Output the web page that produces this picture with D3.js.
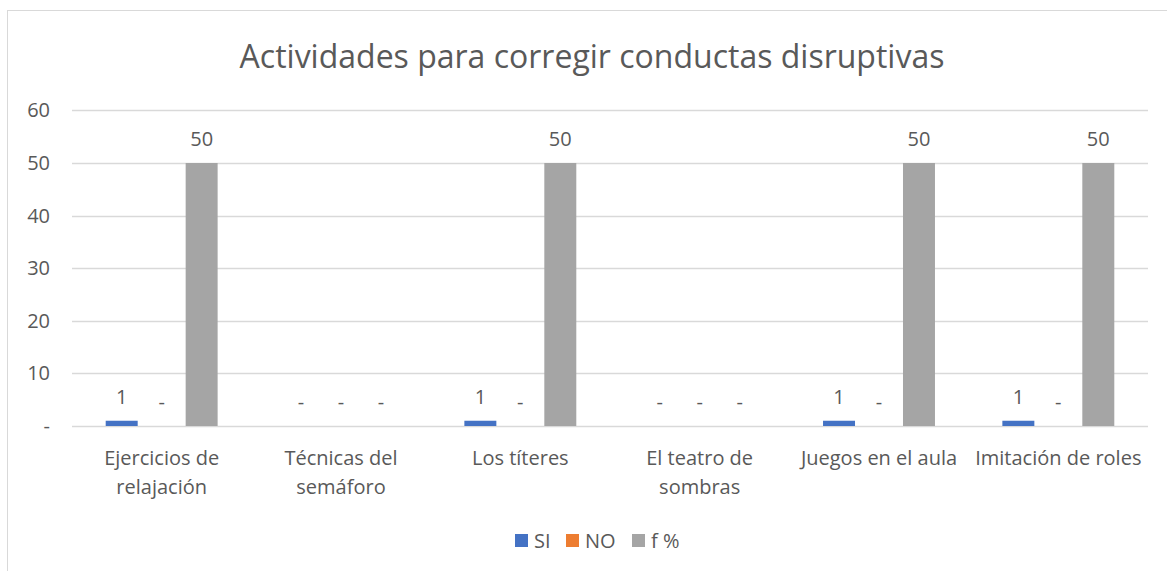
<!DOCTYPE html>
<html>
<head>
<meta charset="utf-8" />
<title>Actividades para corregir conductas disruptivas</title>
<script src="https://d3js.org/d3.v7.min.js"></script>
<style>
  body { margin: 0; background: #fff; }
  svg text { font-family: "Open Sans", "Noto Sans", sans-serif; fill: #595959; }
</style>
</head>
<body>
<div id="chart"></div>
<script>
// datos
var categorias = ["Ejercicios de relajación", "Técnicas del semáforo", "Los títeres",
                  "El teatro de sombras", "Juegos en el aula", "Imitación de roles"];
var series = ["SI", "NO", "f %"];
var valoresSI = [1, 0, 1, 0, 1, 1];
var valoresNO = [0, 0, 0, 0, 0, 0];
var valoresF  = [50, 0, 50, 0, 50, 50];
var ticksY = [0, 10, 20, 30, 40, 50, 60];
var colores = ["#4472C4", "#ED7D31", "#A5A5A5"];

var width = 1167, height = 571;
var plot = { left: 72, right: 1148, top: 110.4, bottom: 426 };
var fs = "20px";

var svg = d3.select("#chart").append("svg").attr("width", width).attr("height", height);

// marco
svg.append("rect").attr("x", 7.5).attr("y", 10.5).attr("width", 1300).attr("height", 700)
  .attr("fill", "none").attr("stroke", "#d9d9d9");

// titulo
svg.append("text").attr("x", 592).attr("y", 68).attr("text-anchor", "middle")
  .style("font-size", "32px").text("Actividades para corregir conductas disruptivas");

var y = d3.scaleLinear().domain([0, 60]).range([plot.bottom, plot.top]);
var x0 = d3.scaleBand().domain(categorias).range([plot.left, plot.right]).padding(0);
var outer = 33.7;
var x1 = d3.scaleBand().domain(series).range([outer, x0.bandwidth() - outer]).paddingInner(0.2).paddingOuter(0);

// lineas de cuadricula
svg.append("g").selectAll("line").data(ticksY).join("line")
  .attr("x1", plot.left).attr("x2", plot.right)
  .attr("y1", function(d){ return Math.round(y(d)) + 0.5; })
  .attr("y2", function(d){ return Math.round(y(d)) + 0.5; })
  .attr("stroke", "#d9d9d9").attr("stroke-width", 1.5);

// eje y
var yAxis = d3.axisLeft(y).tickValues(ticksY).tickSize(0).tickPadding(0)
  .tickFormat(function(d){ return d === 0 ? "-" : d; });
var gy = svg.append("g").attr("transform", "translate(50,0)").call(yAxis);
gy.select(".domain").remove();
gy.selectAll("text").style("font-size", fs).attr("fill", "#595959")
  .style("font-family", "\"Open Sans\", sans-serif");

// barras
var filas = categorias.map(function(c, i){
  return [valoresSI[i], valoresNO[i], valoresF[i]].map(function(v, j){
    return { cat: c, serie: series[j], valor: v, color: colores[j] };
  });
});

var grupos = svg.append("g").selectAll("g").data(filas).join("g")
  .attr("transform", function(d){ return "translate(" + x0(d[0].cat) + ",0)"; });

grupos.selectAll("rect").data(function(d){ return d; }).join("rect")
  .attr("x", function(d){ return x1(d.serie); })
  .attr("width", x1.bandwidth())
  .attr("y", function(d){ return y(d.valor); })
  .attr("height", function(d){ return y(0) - y(d.valor); })
  .attr("fill", function(d){ return d.color; });

grupos.selectAll("text").data(function(d){ return d; }).join("text")
  .attr("x", function(d){ return x1(d.serie) + x1.bandwidth() / 2; })
  .attr("y", function(d){ return y(d.valor) - 17; })
  .attr("text-anchor", "middle").style("font-size", fs)
  .text(function(d){ return d.valor === 0 ? "-" : d.valor; });

// etiquetas de categorias
function wrap(texto, ancho) {
  texto.each(function(d){
    var t = d3.select(this), palabras = d.split(" "), linea = [];
    var xx = t.attr("x");
    var tspan = t.text(null).append("tspan").attr("x", xx).attr("dy", 0);
    palabras.forEach(function(p){
      linea.push(p);
      tspan.text(linea.join(" "));
      if (tspan.node().getComputedTextLength() > ancho && linea.length > 1) {
        linea.pop();
        tspan.text(linea.join(" "));
        linea = [p];
        tspan = t.append("tspan").attr("x", xx).attr("dy", 29).text(p);
      }
    });
  });
}

svg.append("g").selectAll("text").data(categorias).join("text")
  .attr("x", function(d){ return x0(d) + x0.bandwidth() / 2; })
  .attr("y", 465).attr("text-anchor", "middle").style("font-size", fs)
  .call(wrap, 174);

// leyenda
var leyendaX = [515, 566, 632];
var ley = svg.append("g").selectAll("g").data(series).join("g")
  .attr("transform", function(d, i){ return "translate(" + leyendaX[i] + ",534)"; });
ley.append("rect").attr("width", 13).attr("height", 13)
  .attr("fill", function(d, i){ return colores[i]; });
ley.append("text").attr("x", 19).attr("y", 14).style("font-size", fs)
  .text(function(d){ return d; });
</script>
</body>
</html>
